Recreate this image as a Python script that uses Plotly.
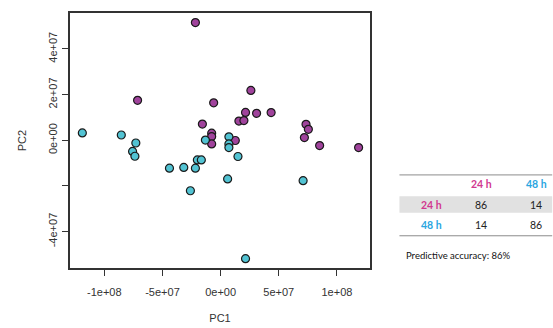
import plotly.graph_objects as go

# ---- data ----
pc1_24h = [-2.17e7, -7.14e7, -6.0e6, -1.57e7, -7.7e6, -7.7e6, -7.7e6, 1.26e7, 1.57e7, 2.0e7,
           2.14e7, 2.6e7, 3.09e7, 4.34e7, 7.34e7, 7.54e7, 7.2e7, 8.51e7, 1.186e8]
pc2_24h = [5.15e7, 1.75e7, 1.64e7, 7.1e6, 3.1e6, 1.6e6, -1.6e6, -0.1e6, 8.4e6, 8.6e6,
           1.22e7, 2.18e7, 1.18e7, 1.21e7, 7.0e6, 4.8e6, 1.2e6, -2.3e6, -3.2e6]
pc1_48h = [-1.189e8, -8.54e7, -7.29e7, -7.57e7, -7.37e7, -4.4e7, -3.17e7, -2.17e7, -2.0e7, -1.66e7,
           -2.6e7, -1.31e7, 7.1e6, 7.1e6, 7.1e6, 1.49e7, 6.0e6, 7.09e7, 2.14e7]
pc2_48h = [3.2e6, 2.3e6, -1.2e6, -4.9e6, -7.0e6, -1.22e7, -1.19e7, -1.22e7, -8.6e6, -8.6e6,
           -2.21e7, 0.1e6, 1.5e6, -1.6e6, -3.2e6, -7.1e6, -1.69e7, -1.77e7, -5.18e7]

x_tickvals = [-1e8, -5e7, 0, 5e7, 1e8]
x_ticktext = ["-1e+08", "-5e+07", "0e+00", "5e+07", "1e+08"]
y_tickvals = [-4e7, -2e7, 0, 2e7, 4e7]
y_ticktext = ["-4e+07", "", "0e+00", "2e+07", "4e+07"]

classes = ["24 h", "48 h"]
confusion = [[86, 14], [14, 86]]
accuracy_text = "Predictive accuracy: 86%"

# ---- styling ----
PURPLE = "#a0439c"
CYAN = "#52c3d3"
PINK_TXT = "#d1388f"
BLUE_TXT = "#2aa6df"
class_colors = [PINK_TXT, BLUE_TXT]

W, H = 553, 328
L, R, T, B = 70, 370.5, 12.7, 268.3

def px(x):
    return (x - L) / (R - L)

def py(y):
    return (B - y) / (B - T)

fig = go.Figure()
fig.add_trace(go.Scatter(x=pc1_24h, y=pc2_24h, mode="markers",
                         marker=dict(size=8, color=PURPLE, line=dict(color="#1a1a1a", width=1.2)),
                         showlegend=False))
fig.add_trace(go.Scatter(x=pc1_48h, y=pc2_48h, mode="markers",
                         marker=dict(size=8, color=CYAN, line=dict(color="#1a1a1a", width=1.2)),
                         showlegend=False))

axis_font = dict(family="Liberation Sans, Arial, sans-serif", size=11, color="#333")

fig.update_layout(
    width=W, height=H,
    margin=dict(l=L, r=W - R, t=T, b=H - B, autoexpand=False),
    paper_bgcolor="white", plot_bgcolor="white",
    xaxis=dict(range=[-1.295e8, 1.284e8], tickvals=x_tickvals, ticktext=x_ticktext,
               automargin=False,
               showgrid=False, zeroline=False, showline=True, mirror=True,
               linecolor="#333", linewidth=1.5, ticks="outside", ticklen=6,
               tickcolor="#333", tickwidth=1.2, tickfont=axis_font, ticklabelstandoff=7,
               title=dict(text="PC1", font=axis_font, standoff=17)),
    yaxis=dict(range=[-5.59e7, 5.57e7], tickvals=y_tickvals, ticktext=y_ticktext,
               automargin=False,
               showgrid=False, zeroline=False, showline=True, mirror=True,
               linecolor="#333", linewidth=1.5, ticks="outside", ticklen=6,
               tickcolor="#333", tickwidth=1.2, tickfont=axis_font, tickangle=-90,
               ticklabelstandoff=1,
               title=dict(text="PC2", font=axis_font, standoff=18)),
)

# ---- table (confusion matrix) ----
tbl_font = "Lato, Open Sans, sans-serif"
x0, x1 = 400, 553
shapes = [
    dict(type="rect", xref="paper", yref="paper", x0=px(x0), x1=px(x1), y0=py(213), y1=py(196.5),
         fillcolor="#e1e1e1", line=dict(width=0), layer="below"),
    dict(type="line", xref="paper", yref="paper", x0=px(x0), x1=px(x1), y0=py(175), y1=py(175),
         line=dict(color="#8c8c8c", width=1)),
    dict(type="line", xref="paper", yref="paper", x0=px(x0), x1=px(x1), y0=py(236), y1=py(236),
         line=dict(color="#8c8c8c", width=1)),
]
fig.update_layout(shapes=shapes)

col_x = [482, 537]
row_y = [205, 225.5]
row_label_x = 432
header_y = 184

ann = []
for j, c in enumerate(classes):
    ann.append(dict(text="<b>%s</b>" % c, x=px(col_x[j]), y=py(header_y), xref="paper", yref="paper",
                    showarrow=False, font=dict(family=tbl_font, size=10.5, color=class_colors[j]),
                    xanchor="center", yanchor="middle"))
for i, c in enumerate(classes):
    ann.append(dict(text="<b>%s</b>" % c, x=px(row_label_x), y=py(row_y[i]), xref="paper", yref="paper",
                    showarrow=False, font=dict(family=tbl_font, size=10.5, color=class_colors[i]),
                    xanchor="center", yanchor="middle"))
    for j in range(len(classes)):
        ann.append(dict(text=str(confusion[i][j]), x=px(col_x[j]), y=py(row_y[i]), xref="paper",
                        yref="paper", showarrow=False,
                        font=dict(family=tbl_font, size=10.5, color="#222"),
                        xanchor="center", yanchor="middle"))
ann.append(dict(text=accuracy_text, x=px(405), y=py(256), xref="paper", yref="paper",
                showarrow=False, font=dict(family=tbl_font, size=9.5, color="#111"),
                xanchor="left", yanchor="middle"))
fig.update_layout(annotations=ann)

fig.write_html("out.html", config={"displayModeBar": False},
               post_script="document.body.style.margin='0';document.body.style.overflow='hidden';")
